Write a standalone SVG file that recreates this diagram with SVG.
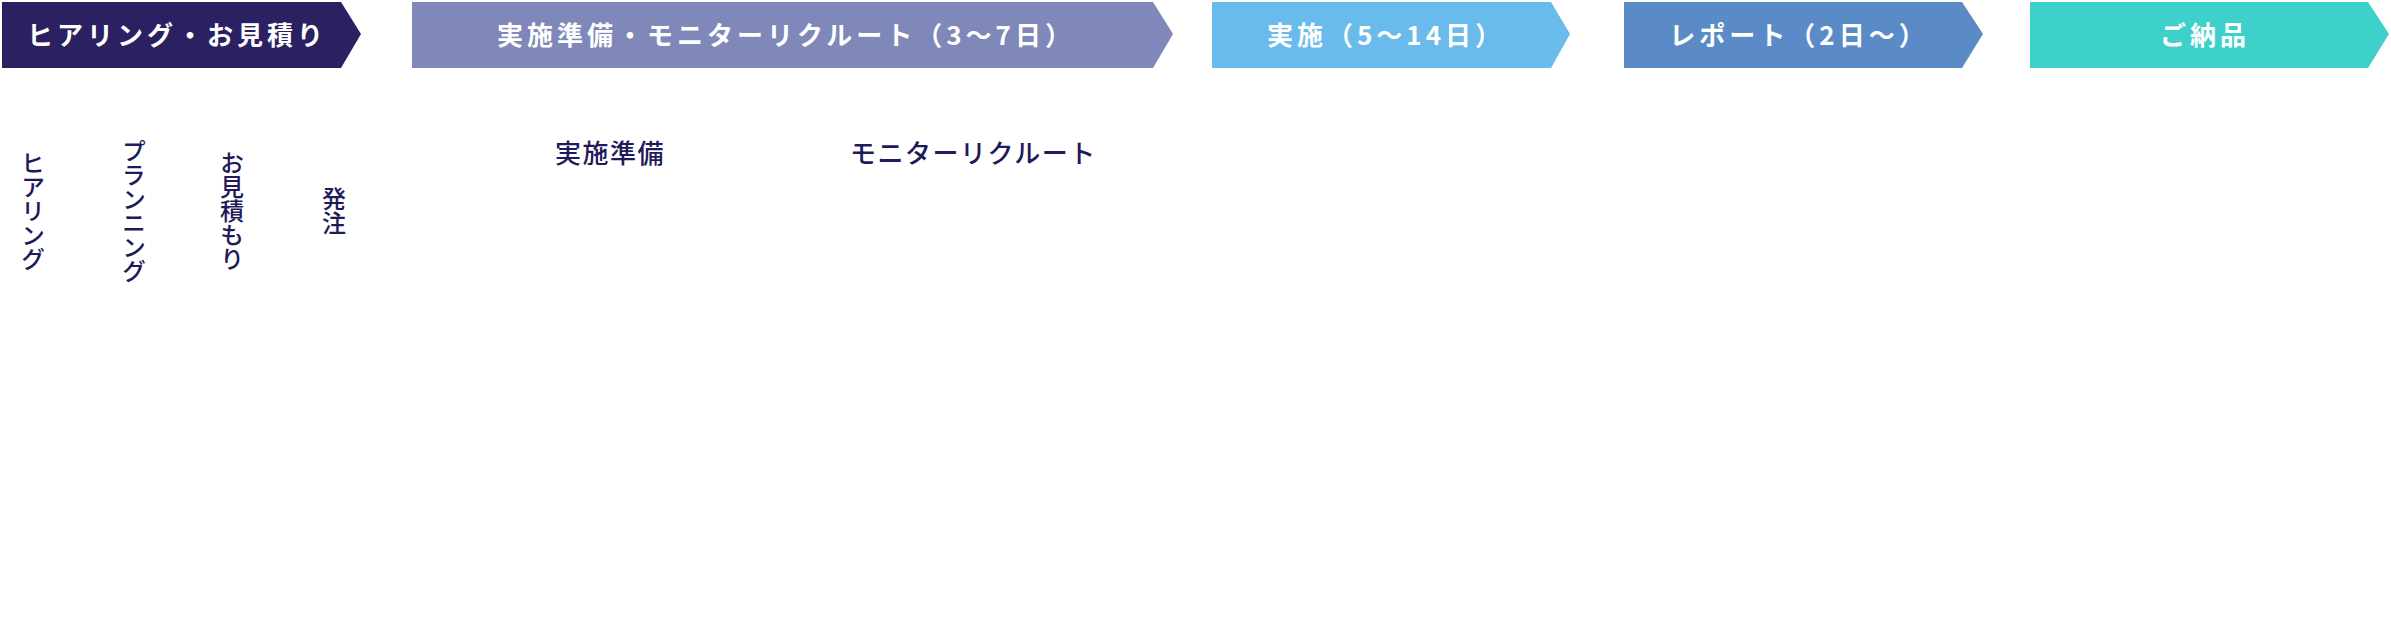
<svg xmlns="http://www.w3.org/2000/svg" width="2391" height="628" viewBox="0 0 2391 628">
<style>
.bt{font-family:"Noto Sans CJK JP","Noto Sans",sans-serif;font-size:26px;font-weight:700;fill:#ffffff;letter-spacing:4px;text-anchor:middle}
.lb{font-family:"Noto Sans CJK JP","Noto Sans",sans-serif;font-size:26px;font-weight:500;fill:#1f1a5a;letter-spacing:1.5px}
.vt{font-family:"Noto Sans CJK JP","Noto Sans",sans-serif;font-size:24px;font-weight:500;fill:#1f1a5a;writing-mode:vertical-rl;text-anchor:middle}
</style>
<rect width="2391" height="628" fill="#ffffff"/>
<g id="step1">
<polygon points="2,2 341,2 361,34 341,68 2,68" fill="#2b2162"/>
<text class="bt" x="177" y="45">ヒアリング・お見積り</text>
</g>
<g id="step2">
<polygon points="412,2 1153,2 1173,34 1153,68 412,68" fill="#7f88b8"/>
<text class="bt" x="786" y="45">実施準備・モニターリクルート（3～7日）</text>
</g>
<g id="step3">
<polygon points="1212,2 1551,2 1570,34 1551,68 1212,68" fill="#68bbea"/>
<text class="bt" x="1386" y="45">実施（5～14日）</text>
</g>
<g id="step4">
<polygon points="1624,2 1962,2 1983,34 1962,68 1624,68" fill="#5a8bc7"/>
<text class="bt" x="1799" y="45">レポート（2日～）</text>
</g>
<g id="step5">
<polygon points="2030,2 2368,2 2389,34 2368,68 2030,68" fill="#3ed0cb"/>
<text class="bt" x="2205" y="45">ご納品</text>
</g>
<g id="sub-hearing"><text class="vt" x="33" y="211">ヒアリング</text></g>
<g id="sub-planning"><text class="vt" x="134" y="211">プランニング</text></g>
<g id="sub-estimate"><text class="vt" x="232" y="211">お見積もり</text></g>
<g id="sub-order"><text class="vt" x="334" y="211">発注</text></g>
<g id="sub-prep"><text class="lb" x="555" y="163">実施準備</text></g>
<g id="sub-recruit"><text class="lb" x="850" y="163">モニターリクルート</text></g>
<g id="connectors"></g>
</svg>
